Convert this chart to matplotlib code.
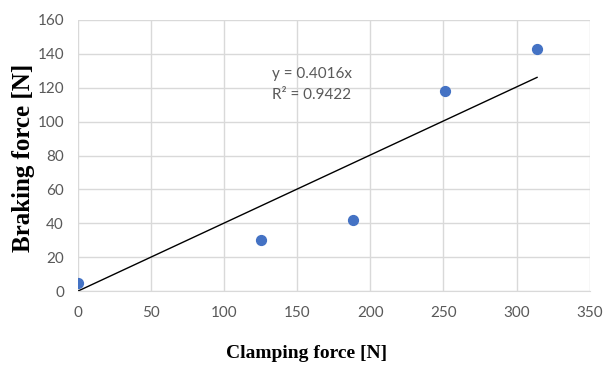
import matplotlib
matplotlib.use("Agg")
import matplotlib.pyplot as plt
import numpy as np

# data
clamping = [0, 125, 188, 251, 314]
braking = [5, 30, 42, 118, 143]
slope = 0.4016
r2 = 0.9422

tick_font = ["Lato", "DejaVu Sans"]

fig = plt.figure(figsize=(6.13, 3.69), dpi=100)
ax = fig.add_axes([0.127, 0.211, 0.835, 0.735])

# trend line through origin
xt = np.array([0, max(clamping)])
ax.plot(xt, slope * xt, color="black", lw=1.0, zorder=2)
ax.scatter(clamping, braking, s=50, color="#4472C4", zorder=3)

ax.set_xlim(0, 350)
ax.set_ylim(0, 160)
ax.set_xticks(range(0, 351, 50))
ax.set_yticks(range(0, 161, 20))
ax.grid(True, color="#d9d9d9", lw=1.0)
ax.set_axisbelow(True)
for s in ["top", "right", "left"]:
    ax.spines[s].set_visible(False)
ax.spines["bottom"].set_color("#d9d9d9")
ax.tick_params(length=0, labelcolor="#595959", labelsize=11)
ax.tick_params(axis="x", pad=11)
ax.tick_params(axis="y", pad=10)
for lab in ax.get_xticklabels() + ax.get_yticklabels():
    lab.set_family(tick_font)

ax.text(133, 122, "y = %.4fx\nR² = %.4f" % (slope, r2), color="#595959",
        fontsize=11, family=tick_font, va="center", linespacing=1.6)

ax.set_xlabel("Clamping force [N]", family="Liberation Serif", fontweight="bold",
              fontsize=14, va="top")
ax.xaxis.set_label_coords(0.446, -0.2)
ax.set_ylabel("Braking force [N]", family="Liberation Serif", fontweight="bold",
              fontsize=18, va="center")
ax.yaxis.set_label_coords(-0.107, 0.493)

fig.savefig("out.png", dpi=100)
